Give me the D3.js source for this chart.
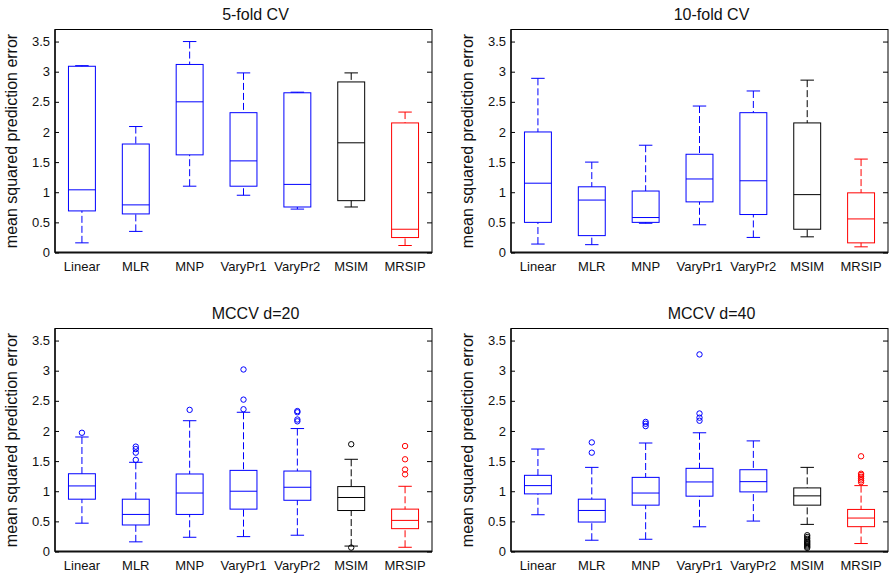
<!DOCTYPE html>
<html lang="en">
  <head>
    <meta charset="UTF-8" />
    <title>Mean squared prediction error boxplots</title>
    <style>
      body { margin: 0; background: #fff; }
      svg { display: block; font-family: "Liberation Sans", Arial, Helvetica, sans-serif; }
    </style>
  </head>
  <body>
    <svg width="890" height="575"></svg>
    <script src="https://d3js.org/d3.v7.min.js"></script>
    <script>
      const methods = ["Linear", "MLR", "MNP", "VaryPr1", "VaryPr2", "MSIM", "MRSIP"];
      const yTicks = [0, 0.5, 1, 1.5, 2, 2.5, 3, 3.5];

      // [lower whisker, q1, median, q3, upper whisker] per method
      const cv5Stats = [
        [0.16, 0.69, 1.04, 3.09, 3.1],
        [0.35, 0.64, 0.79, 1.8, 2.09],
        [1.1, 1.62, 2.5, 3.12, 3.5],
        [0.95, 1.1, 1.52, 2.32, 2.98],
        [0.72, 0.755, 1.13, 2.65, 2.66],
        [0.755, 0.86, 1.82, 2.83, 2.98],
        [0.116, 0.248, 0.386, 2.15, 2.33]
      ];
      const cv5Outliers = [[], [], [], [], [], [], []];

      const cv10Stats = [
        [0.14, 0.5, 1.15, 2.0, 2.89],
        [0.13, 0.28, 0.87, 1.09, 1.5],
        [0.485, 0.5, 0.58, 1.02, 1.78],
        [0.46, 0.84, 1.22, 1.63, 2.43],
        [0.25, 0.63, 1.19, 2.32, 2.68],
        [0.26, 0.386, 0.96, 2.15, 2.86],
        [0.094, 0.16, 0.557, 0.99, 1.55]
      ];
      const cv10Outliers = [[], [], [], [], [], [], []];

      const mccv20Stats = [
        [0.47, 0.868, 1.088, 1.29, 1.9],
        [0.16, 0.44, 0.615, 0.868, 1.48],
        [0.236, 0.615, 0.97, 1.286, 2.17],
        [0.247, 0.703, 1.0, 1.346, 2.31],
        [0.27, 0.85, 1.066, 1.335, 2.04],
        [0.09, 0.68, 0.896, 1.077, 1.53],
        [0.07, 0.379, 0.516, 0.703, 1.082]
      ];
      const mccv20Outliers = [
        [1.97],
        [1.52, 1.64, 1.7, 1.74],
        [2.35],
        [2.36, 2.52, 3.02],
        [2.16, 2.19, 2.31, 2.33],
        [0.065, 1.78],
        [1.28, 1.36, 1.53, 1.75]
      ];

      const mccv40Stats = [
        [0.61, 0.956, 1.093, 1.264, 1.7],
        [0.187, 0.489, 0.681, 0.868, 1.396],
        [0.203, 0.769, 0.97, 1.23, 1.8],
        [0.41, 0.918, 1.154, 1.38, 1.97],
        [0.505, 0.989, 1.159, 1.357, 1.835],
        [0.45, 0.769, 0.923, 1.055, 1.396],
        [0.132, 0.412, 0.555, 0.698, 1.093]
      ];
      const mccv40Outliers = [
        [],
        [1.64, 1.81],
        [2.08, 2.12, 2.15],
        [2.17, 2.22, 2.29, 3.27],
        [],
        [0.06, 0.08, 0.1, 0.12, 0.14, 0.16, 0.18, 0.21, 0.24, 0.27],
        [1.15, 1.18, 1.21, 1.24, 1.27, 1.29, 1.58]
      ];

      const colors = ["#0000ff", "#0000ff", "#0000ff", "#0000ff", "#0000ff", "#000000", "#ff0000"];

      const panels = [
        { title: "5-fold CV", stats: cv5Stats, outliers: cv5Outliers, x: 55, y: 29.5 },
        { title: "10-fold CV", stats: cv10Stats, outliers: cv10Outliers, x: 511, y: 29.5 },
        { title: "MCCV d=20", stats: mccv20Stats, outliers: mccv20Outliers, x: 55, y: 328.5 },
        { title: "MCCV d=40", stats: mccv40Stats, outliers: mccv40Outliers, x: 511, y: 328.5 }
      ];

      const plotW = 377;
      const plotH = 223;

      const svg = d3.select("svg");

      panels.forEach((p) => {
        const g = svg.append("g").attr("transform", `translate(${p.x},${p.y})`);

        const x = d3.scalePoint().domain(methods).range([0, plotW]).padding(0.5);
        const y = d3.scaleLinear().domain([0, 3.7]).range([plotH, 0]);
        const step = x.step();
        const boxW = step * 0.5;
        const capW = step * 0.25;

        // frame
        g.append("rect")
          .attr("width", plotW)
          .attr("height", plotH)
          .attr("fill", "none")
          .attr("stroke", "#000")
          .attr("stroke-width", 1);
        g.append("line")
          .attr("x1", 0).attr("x2", plotW)
          .attr("y1", plotH).attr("y2", plotH)
          .attr("stroke", "#111").attr("stroke-width", 2);
        g.append("line")
          .attr("x1", 0).attr("x2", 0)
          .attr("y1", 0).attr("y2", plotH)
          .attr("stroke", "#111").attr("stroke-width", 1.5);

        const yAxis = g.append("g")
          .call(d3.axisLeft(y).tickValues(yTicks).tickSize(-4).tickPadding(5).tickFormat(d3.format("")));
        yAxis.select(".domain").remove();
        yAxis.selectAll("text").attr("font-size", 13).attr("fill", "#111").attr("font-family", null);

        const yRight = g.append("g")
          .attr("transform", `translate(${plotW},0)`)
          .call(d3.axisRight(y).tickValues(yTicks).tickSize(-5).tickFormat(""));
        yRight.select(".domain").remove();

        // x labels
        g.selectAll(".xlab")
          .data(methods)
          .join("text")
          .attr("x", (d) => x(d))
          .attr("y", plotH + 18)
          .attr("text-anchor", "middle")
          .attr("font-size", 13)
          .attr("fill", "#111")
          .text((d) => d);

        // title
        g.append("text")
          .attr("x", plotW / 2 + 12)
          .attr("y", -9.5)
          .attr("text-anchor", "middle")
          .attr("font-size", 16)
          .attr("fill", "#111")
          .text(p.title);

        // y label
        g.append("text")
          .attr("transform", `translate(-38,${plotH / 2}) rotate(-90)`)
          .attr("text-anchor", "middle")
          .attr("font-size", 16)
          .attr("fill", "#111")
          .text("mean squared prediction error");

        // boxes
        methods.forEach((m, i) => {
          const [lo, q1, med, q3, hi] = p.stats[i];
          const cx = x(m);
          const c = colors[i];
          const b = g.append("g").attr("stroke", c).attr("fill", "none").attr("stroke-width", 1);

          // whiskers
          b.append("line")
            .attr("x1", cx).attr("x2", cx)
            .attr("y1", y(hi)).attr("y2", y(q3))
            .attr("stroke-dasharray", "7,3");
          b.append("line")
            .attr("x1", cx).attr("x2", cx)
            .attr("y1", y(lo)).attr("y2", y(q1))
            .attr("stroke-dasharray", "7,3");
          [lo, hi].forEach((v) => {
            b.append("line")
              .attr("x1", cx - capW / 2).attr("x2", cx + capW / 2)
              .attr("y1", y(v)).attr("y2", y(v));
          });

          b.append("rect")
            .attr("x", cx - boxW / 2)
            .attr("y", y(q3))
            .attr("width", boxW)
            .attr("height", y(q1) - y(q3));
          b.append("line")
            .attr("x1", cx - boxW / 2).attr("x2", cx + boxW / 2)
            .attr("y1", y(med)).attr("y2", y(med));

          b.selectAll("circle")
            .data(p.outliers[i])
            .join("circle")
            .attr("cx", cx)
            .attr("cy", (v) => y(v))
            .attr("r", 2.7);
        });
      });
    </script>
  </body>
</html>
